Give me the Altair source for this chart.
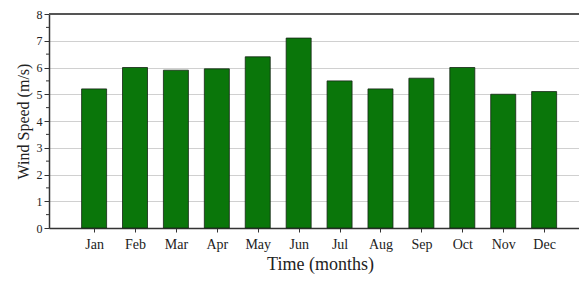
import altair as alt
import pandas as pd

months = ["Jan", "Feb", "Mar", "Apr", "May", "Jun", "Jul", "Aug", "Sep", "Oct", "Nov", "Dec"]
month_index = list(range(1, 13))
wind_speed = [5.2, 6.0, 5.9, 5.95, 6.4, 7.1, 5.5, 5.2, 5.6, 6.0, 5.0, 5.1]
y_major = list(range(0, 9))
y_minor = [i + 0.5 for i in range(8)]

df = pd.DataFrame({"idx": month_index, "month": months, "speed": wind_speed})

FONT = "Liberation Serif"
label_expr = "[" + ",".join(f"'{m}'" for m in [""] + months + [""]) + "][datum.value]"

x_scale = alt.Scale(domain=[0.02, 12.73], nice=False, zero=False)
y_scale = alt.Scale(domain=[0, 8], nice=False)

y_axis = alt.Axis(values=y_major, title="Wind Speed (m/s)", labelOverlap=False,
                  tickSize=5, grid=True, gridColor="#d0d0d0", gridWidth=1,
                  tickColor="#333", domainColor="#333", domainWidth=1.5,
                  labelFont=FONT, labelFontSize=12, labelColor="#222", labelPadding=2,
                  titleFont=FONT, titleFontSize=16, titleFontWeight="normal",
                  titleColor="#222", titlePadding=5)

bars = alt.Chart(df).mark_bar(size=25, color="#0a760a", stroke="#142414", strokeWidth=0.8).encode(
    x=alt.X("idx:Q", scale=x_scale,
            axis=alt.Axis(values=month_index, labelExpr=label_expr, title="Time (months)",
                          grid=False, tickSize=4, tickColor="#333", domainColor="#333",
                          domainWidth=1.5, labelFont=FONT, labelFontSize=14, labelColor="#222",
                          labelPadding=5, labelOverlap=False, titleFont=FONT, titleFontSize=18,
                          titleFontWeight="normal", titleColor="#222", titlePadding=4,
                          titleX=271)),
    y=alt.Y("speed:Q", scale=y_scale, axis=y_axis),
)

minor = alt.Chart(pd.DataFrame({"speed": y_minor})).mark_rule(color="#333", strokeWidth=1).encode(
    y=alt.Y("speed:Q", scale=y_scale, axis=y_axis),
    x=alt.value(-3),
    x2=alt.value(0),
)

top = alt.Chart(pd.DataFrame({"speed": [8]})).mark_rule(color="#555", strokeWidth=2).encode(
    y=alt.Y("speed:Q", scale=y_scale, axis=y_axis)
)

chart = alt.layer(bars, minor, top).properties(
    width=530, height=214,
    autosize=alt.AutoSizeParams(type="none"),
    padding={"left": 41, "top": 6, "right": 0, "bottom": 48},
).configure_view(stroke=None)

chart.save("out.html", embed_options={"renderer": "svg", "actions": False})
